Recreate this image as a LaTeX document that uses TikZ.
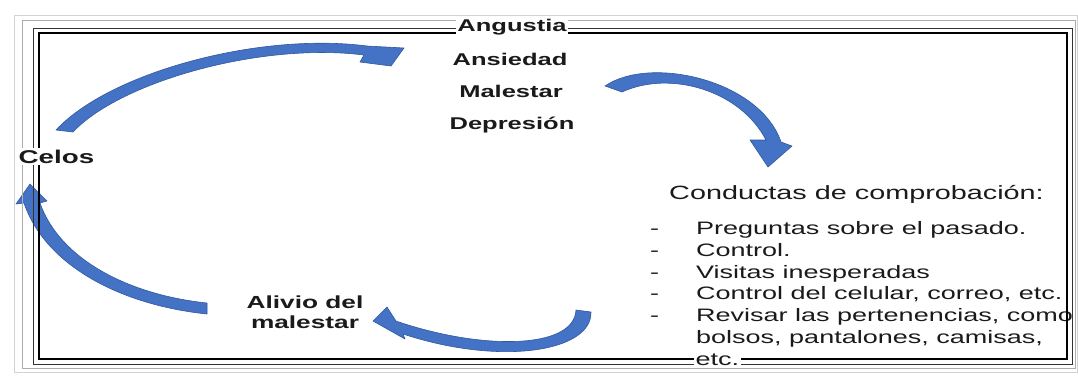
\documentclass[tikz,border=0pt]{standalone}
\usepackage{fontspec}
\setmainfont{Liberation Sans}[FakeStretch=1.5]
\definecolor{arrowblue}{HTML}{4472C4}
\definecolor{arrowedge}{HTML}{30599F}
\definecolor{txt}{HTML}{1A1A1A}
\begin{document}
\begin{tikzpicture}[x=1pt,y=-1pt,
  arrowshape/.style={fill=arrowblue, draw=arrowedge, line width=0.6pt, line join=round},
  lbl/.style={font=\fontsize{17}{20}\selectfont\bfseries, text=txt, inner sep=0pt, anchor=base},
  listtxt/.style={font=\fontsize{18}{22}\selectfont, text=txt, inner sep=0pt, anchor=base west},
  frameline/.style={draw, line width=#1},
  halo/.style={fill=white, inner sep=1.5pt}]
\useasboundingbox (0,0) rectangle (1078,376);
\fill[white] (0,0) rectangle (1078,376);

% curved arrows
\fill[arrowshape] (56,130) .. controls (110,72) and (260,32) .. (367,46)
  -- (404,48) -- (391,66) -- (360,62) -- (364,55)
  .. controls (260,42) and (120,82) .. (73,132) -- cycle;
\fill[arrowshape] (605,86) .. controls (650,55) and (760,80) .. (781,142)
  -- (792,146) -- (768,167) -- (750,140) -- (766,140)
  .. controls (740,90) and (670,70) .. (622,92) -- cycle;
\fill[arrowshape] (576,310) -- (591,312) .. controls (592,352) and (500,366) .. (403,334)
  -- (405,339) -- (373,321) -- (387,307) -- (396,321)
  .. controls (480,350) and (574,350) .. (576,310) -- cycle;
\fill[arrowshape] (207,314) .. controls (120,305) and (45,265) .. (24,203)
  -- (16,204) -- (30,184) -- (47,201) -- (40,203)
  .. controls (60,260) and (130,295) .. (207,303) -- cycle;

% centre labels
\node[lbl] (ansiedad) at (510,65) {Ansiedad};
\node[lbl] (malestar) at (511,97) {Malestar};
\node[lbl] (depresion) at (512,129) {Depresión};
\node[lbl, font=\fontsize{17.5}{20}\selectfont\bfseries] (alivio) at (305,308) {Alivio del};
\node[lbl, font=\fontsize{17.5}{20}\selectfont\bfseries] (alivio2) at (305,328) {malestar};

% list on the right
\node[listtxt, font=\fontsize{19.2}{24}\selectfont] (cond) at (669,199) {Conductas de comprobación:};
\node[listtxt] (d1) at (650,234) {-};
\node[listtxt] (l1) at (696,234) {Preguntas sobre el pasado.};
\node[listtxt] (d2) at (650,256) {-};
\node[listtxt] (l2) at (696,256) {Control.};
\node[listtxt] (d3) at (650,278) {-};
\node[listtxt] (l3) at (696,278) {Visitas inesperadas};
\node[listtxt] (d4) at (650,299) {-};
\node[listtxt] (l4) at (696,299) {Control del celular, correo, etc.};
\node[listtxt] (d5) at (650,321) {-};
\node[listtxt] (l5) at (696,321) {Revisar las pertenencias, como};
\node[listtxt] (l6) at (696,343) {bolsos, pantalones, camisas,};

% frame
\draw[frameline=0.6pt, gray!35] (14,15) rectangle (1077,372);
\draw[frameline=0.7pt, gray!65] (22,20) rectangle (1075,368);
\draw[frameline=0.9pt, black!80] (33,28) rectangle (1072,364);
\draw[frameline=1.1pt, black] (39,33) rectangle (1067,359);

% labels sitting on the frame
\node[lbl, halo] (angustia) at (512,31) {Angustia};
\node[lbl, halo, font=\fontsize{18.5}{20}\selectfont\bfseries, anchor=base west] (celos) at (17,163) {Celos};
\node[listtxt, halo] (l7) at (694,365) {etc.};
\end{tikzpicture}
\end{document}
